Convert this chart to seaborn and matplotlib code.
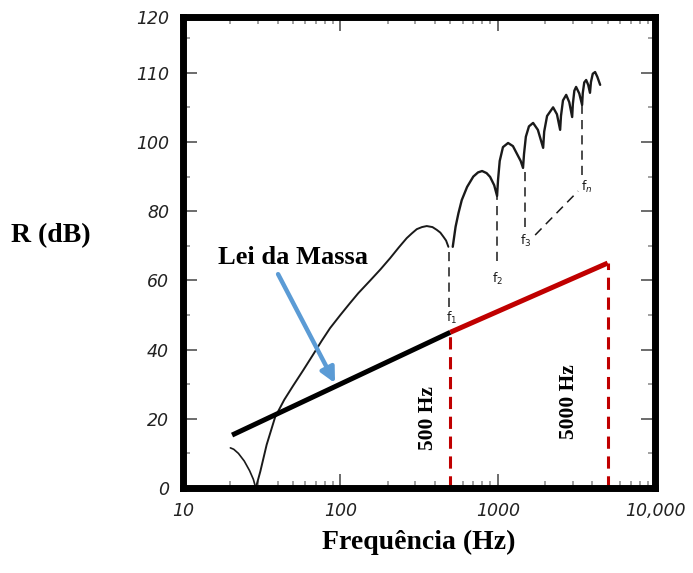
import matplotlib
matplotlib.use('Agg')
import matplotlib.pyplot as plt
import matplotlib.ticker as mticker
import seaborn as sns

# Sound reduction index curve, split into drawn arcs
arc0_f = [20, 21, 22.5, 24.5, 26.5, 28, 29]
arc0_r = [11.6, 11.2, 10, 7.8, 5, 2.5, 0]

curve_f = [29, 31, 34, 38.5, 44, 50, 58, 67, 76, 86, 100, 115, 130, 155, 180, 207,
           235, 264, 285, 306, 330, 354, 385, 410, 432, 452, 470, 486]
curve_r = [0, 4.8, 12.5, 20.5, 25.5, 29.5, 34, 38.5, 42.5, 46.2, 50, 53.4, 56.3,
           60, 63.2, 66.4, 69.5, 72.2, 73.6, 74.8, 75.4, 75.7, 75.4, 74.6, 73.8,
           72.6, 71.5, 69.7]

ripple_f = [518, 540, 563, 591, 639, 700, 750, 796, 850, 895, 950, 991,
            1005, 1030, 1080, 1164, 1250, 1321, 1400, 1449,
            1470, 1510, 1580, 1679, 1800, 1945,
            1975, 2060, 2250, 2380, 2494,
            2525, 2600, 2725, 2850, 2974,
            3005, 3070, 3150, 3300, 3440,
            3475, 3550, 3650, 3760, 3860,
            3915, 4020, 4160, 4300, 4480]
ripple_r = [69.7, 75.5, 79.4, 83.2, 87, 90, 91.2, 91.6, 91, 89.9, 87.5, 84.4,
            89, 94.5, 98.5, 99.7, 98.8, 96.7, 94.5, 92.5,
            96.5, 101.5, 104.5, 105.5, 103.5, 98.3,
            103, 107.5, 110, 108, 103.5,
            107.5, 112, 113.6, 111.5, 107.2,
            111, 114.8, 115.9, 114, 110.7,
            114.2, 117.2, 117.9, 116.5, 114.2,
            117.3, 119.7, 120.2, 118.8, 116.5]

# coincidence markers f1, f2, f3, fn
marker_names = ['f$_1$', 'f$_2$', 'f$_3$', 'f$_n$']
marker_f = [493, 991, 1490, 3440]
marker_top = [68.2, 84.4, 92.5, 110.7]
marker_bottom = [52.3, 65.5, 75.4, 90.5]
label_f = [511, 1005, 1500, 3700]
label_r = [49, 60.5, 71.5, 87]
diag_f = [1730, 3244]
diag_r = [73.1, 85.8]

# mass law
mass_black_f = [20.5, 500]
mass_black_r = [15.3, 45]
mass_red_f = [500, 5000]
mass_red_r = [45, 65]

x_ticks = [10, 100, 1000, 10000]
x_labels = ['10', '100', '1000', '10,000']
y_ticks = [0, 20, 40, 60, 80, 100, 120, 136.1]
y_labels = ['0', '20', '40', '60', '80', '100', '110', '120']

sns.set_theme(style='white')
plt.rcParams['font.family'] = ['DejaVu Sans']
plt.rcParams['text.color'] = 'black'

fig = plt.figure(figsize=(6.93, 5.73), dpi=100)
ax = fig.add_axes([0.2641, 0.1483, 0.6811, 0.822])

ink = '#1a1a1a'
sns.lineplot(x=arc0_f, y=arc0_r, ax=ax, color=ink, lw=1.2, sort=False, estimator=None)
sns.lineplot(x=curve_f, y=curve_r, ax=ax, color=ink, lw=1.4, sort=False, estimator=None)
sns.lineplot(x=ripple_f, y=ripple_r, ax=ax, color=ink, lw=1.7, sort=False, estimator=None)

for f, top, bot in zip(marker_f, marker_top, marker_bottom):
    sns.lineplot(x=[f, f], y=[top, bot], ax=ax, color=ink, lw=1.1,
                 linestyle=(0, (6, 4)), estimator=None)
sns.lineplot(x=diag_f, y=diag_r, ax=ax, color=ink, lw=1.1,
             linestyle=(0, (6, 4)), estimator=None)
for name, f, r in zip(marker_names, label_f, label_r):
    ax.text(f, r, name, fontsize=9, color=ink, ha='center', va='center')

# mass law line and limits
sns.lineplot(x=mass_black_f, y=mass_black_r, ax=ax, color='black', lw=3.6,
             estimator=None, solid_capstyle='butt')
sns.lineplot(x=mass_red_f, y=mass_red_r, ax=ax, color='#c00000', lw=3.6,
             estimator=None, solid_capstyle='butt')
for f, r in zip(mass_red_f, mass_red_r):
    sns.lineplot(x=[f, f], y=[r, 0], ax=ax, color='#c00000', lw=2.2,
                 linestyle=(0, (4, 2.5)), estimator=None)

serif = ['Liberation Serif', 'DejaVu Serif']
ax.text(360, 20.2, '500 Hz', rotation=90, fontsize=15.5, fontweight='bold',
        family=serif, ha='center', va='center', color='black')
ax.text(2845, 24.9, '5000 Hz', rotation=90, fontsize=15.5, fontweight='bold',
        family=serif, ha='center', va='center', color='black')
ax.text(50, 66.5, 'Lei da Massa', fontsize=19, fontweight='bold',
        family=serif, ha='center', va='center', color='black')
ax.annotate('', xy=(92.5, 30.3), xytext=(40.2, 61.8),
            arrowprops=dict(arrowstyle='-|>', color='#5b9bd5', lw=3.2,
                            mutation_scale=22, shrinkA=0, shrinkB=0))

# axes
ax.set_xscale('log')
ax.set_xlim(10, 10000)
ax.set_ylim(0, 136.1)
ax.set_xticks(x_ticks)
ax.set_xticklabels(x_labels)
ax.xaxis.set_minor_locator(mticker.LogLocator(base=10, subs=range(2, 10)))
ax.xaxis.set_minor_formatter(mticker.NullFormatter())
ax.set_yticks(y_ticks)
ax.set_yticklabels(y_labels)
ax.yaxis.set_minor_locator(mticker.MultipleLocator(10))

ax.tick_params(which='both', direction='in', top=True, right=True,
               bottom=True, left=True, color='#444444', width=1.1,
               labelsize=12.5, labelcolor='#222222')
ax.tick_params(which='major', length=10)
ax.tick_params(which='minor', length=5, color='#888888')
ax.tick_params(axis='y', pad=10)
ax.tick_params(axis='x', pad=10)
for lab in ax.get_xticklabels() + ax.get_yticklabels():
    lab.set_fontstyle('italic')

for side in ax.spines.values():
    side.set_visible(True)
    side.set_linewidth(5)
    side.set_color('black')
ax.set_xlabel('')
ax.set_ylabel('')
ax.grid(False)

fig.text(51 / 693, 1 - 236 / 573, 'R (dB)', fontsize=20, fontweight='bold',
         family=serif, ha='center', va='center', color='black')
fig.text(419 / 693, 1 - 542 / 573, 'Frequência (Hz)', fontsize=20,
         fontweight='bold', family=serif, ha='center', va='center', color='black')

fig.savefig('out.png', dpi=100)
